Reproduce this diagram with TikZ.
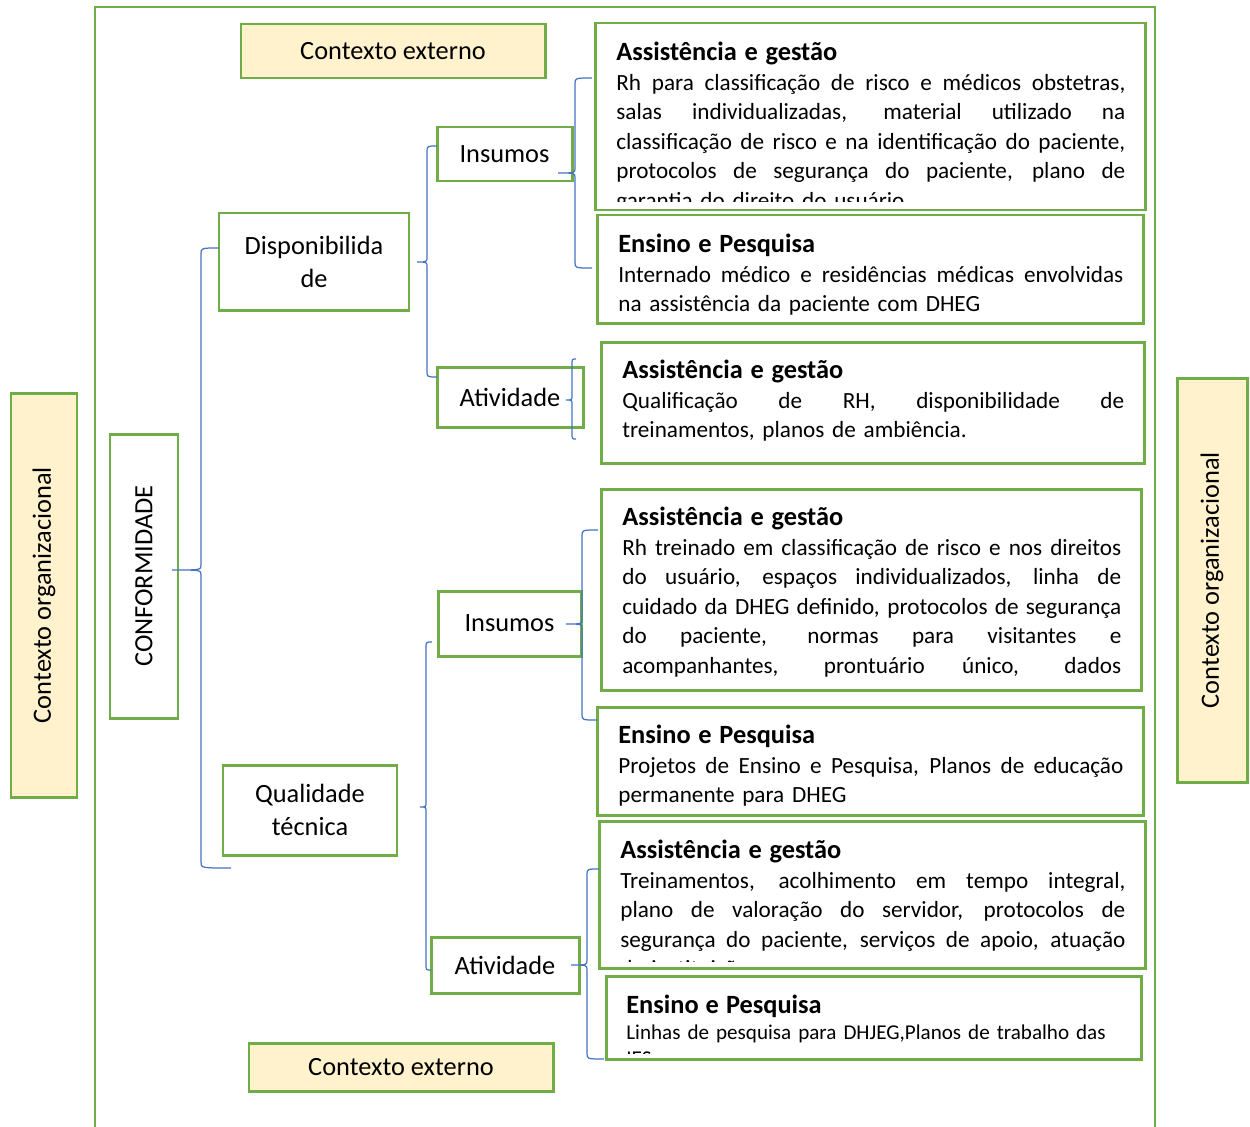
\documentclass[tikz,border=0pt]{standalone}
\usepackage{fontspec}
\setmainfont{Carlito}
\definecolor{boxgreen}{HTML}{70AD47}
\definecolor{braceblue}{HTML}{4472C4}
\definecolor{ctxyellow}{HTML}{FFF2CC}
\newcommand{\pxu}{0.02cm}
\tikzset{
    green box/.style={
        draw=boxgreen,
        fill=white,
        line width=1.7pt,
        inner sep=0pt,
        align=center,
        font=\fontsize{15}{18.8}\selectfont
    },
    context box/.style={
        green box,
        fill=ctxyellow
    },
    info box/.style={
        draw=boxgreen,
        fill=white,
        line width=1.7pt,
        inner sep=0pt
    },
    info text/.style={
        anchor=base west,
        inner sep=0pt,
        align=left,
        font=\fontsize{13.2}{16.8}\selectfont
    },
    brace line/.style={
        draw=braceblue,
        line width=0.7pt
    },
    frame line/.style={
        draw=boxgreen,
        line width=1.5pt
    }
}
\newcommand{\heading}[1]{{\fontsize{15}{16.8}\selectfont\bfseries #1}}
\newcommand{\jline}[1]{\leavevmode\hbox to \hsize{\spaceskip=0pt\xspaceskip=0pt #1}}
% brace: x, top, tip y, bottom, tip x, top end x, bottom end x
\newcommand{\drawbrace}[7]{%
    \draw[brace line]
        (#6,#2) .. controls (#1,#2) .. ({#1},{#2+6})
        -- ({#1},{#3-5}) .. controls (#1,#3) .. (#5,#3)
        .. controls (#1,#3) .. ({#1},{#3+5})
        -- ({#1},{#4-6}) .. controls (#1,#4) .. (#7,#4);
}

\begin{document}
\begin{tikzpicture}[x=\pxu, y=-\pxu]

    \useasboundingbox (0,0) rectangle (1250,1126);

    % Outer frame, open at the bottom.
    \draw[frame line] (95,1140) -- (95,7) -- (1155,7) -- (1155,1140);

    % -------------------------------------------------------------------------
    % Context boxes.
    % -------------------------------------------------------------------------
    \node[context box, minimum width=304*\pxu, minimum height=54*\pxu]
        (ctx top) at (393,51) {Contexto externo};
    \node[context box, minimum width=304*\pxu, minimum height=48*\pxu]
        (ctx bottom) at (401,1067) {Contexto externo};
    \node[context box, rotate=90, minimum width=404*\pxu, minimum height=66*\pxu]
        (org left) at (44,595) {Contexto organizacional};
    \node[context box, rotate=90, minimum width=404*\pxu, minimum height=70*\pxu]
        (org right) at (1212,580) {Contexto organizacional};

    % -------------------------------------------------------------------------
    % Tree of categories.
    % -------------------------------------------------------------------------
    \node[green box, rotate=90, minimum width=284*\pxu, minimum height=68*\pxu]
        (conf) at (144,576) {CONFORMIDADE};

    \node[green box, minimum width=190*\pxu, minimum height=97*\pxu]
        (disp) at (314,261.5) {Disponibilida\\de};
    \node[green box, minimum width=174*\pxu, minimum height=90*\pxu]
        (qual) at (310,810) {Qualidade\\técnica};

    \node[green box, minimum width=135*\pxu, minimum height=54*\pxu]
        (ins disp) at (504.5,154) {Insumos};
    \node[green box, minimum width=146*\pxu, minimum height=60*\pxu]
        (ativ disp) at (510,397) {Atividade};
    \node[green box, minimum width=143*\pxu, minimum height=65*\pxu]
        (ins qual) at (509.5,623.5) {Insumos};
    \node[green box, minimum width=148*\pxu, minimum height=56*\pxu]
        (ativ qual) at (505,965) {Atividade};

    % -------------------------------------------------------------------------
    % Description boxes.
    % -------------------------------------------------------------------------
    \node[info box, minimum width=550*\pxu, minimum height=187*\pxu]
        (assist one) at (870,116.5) {};
    \begin{scope}
        \clip (595,23) rectangle (1145,201);
        \node[info text, text width=509*\pxu] at (616,60.5) {%
            \heading{Assistência e gestão}\\
            \jline{Rh para classificação de risco e médicos obstetras,}\\
            \jline{salas individualizadas, material utilizado na}\\
            \jline{classificação de risco e na identificação do paciente,}\\
            \jline{protocolos de segurança do paciente, plano de}\\
            garantia do direito do usuário};
    \end{scope}

    \node[info box, minimum width=546*\pxu, minimum height=108*\pxu]
        (ensino one) at (870,269) {};
    \node[info text, text width=505*\pxu] at (618,252.5) {%
        \heading{Ensino e Pesquisa}\\
        \jline{Internado médico e residências médicas envolvidas}\\
        na assistência da paciente com DHEG};

    \node[info box, minimum width=543*\pxu, minimum height=121*\pxu]
        (assist two) at (872.5,402.5) {};
    \node[info text, text width=502*\pxu] at (622,378.5) {%
        \heading{Assistência e gestão}\\
        \jline{Qualificação de RH, disponibilidade de}\\
        treinamentos, planos de ambiência.};

    \node[info box, minimum width=540*\pxu, minimum height=201*\pxu]
        (assist three) at (871,589.5) {};
    \node[info text, text width=499*\pxu] at (622,525.5) {%
        \heading{Assistência e gestão}\\
        \jline{Rh treinado em classificação de risco e nos direitos}\\
        \jline{do usuário, espaços individualizados, linha de}\\
        \jline{cuidado da DHEG definido, protocolos de segurança}\\
        \jline{do paciente, normas para visitantes e}\\
        \jline{acompanhantes, prontuário único, dados}};

    \node[info box, minimum width=546*\pxu, minimum height=108*\pxu]
        (ensino three) at (870,761) {};
    \node[info text, text width=505*\pxu] at (618,743.5) {%
        \heading{Ensino e Pesquisa}\\
        \jline{Projetos de Ensino e Pesquisa, Planos de educação}\\
        permanente para DHEG};

    \node[info box, minimum width=546*\pxu, minimum height=147*\pxu]
        (assist four) at (872,894.5) {};
    \begin{scope}
        \clip (599,821) rectangle (1145,961);
        \node[info text, text width=505*\pxu] at (620,858.5) {%
            \heading{Assistência e gestão}\\
            \jline{Treinamentos, acolhimento em tempo integral,}\\
            \jline{plano de valoração do servidor, protocolos de}\\
            \jline{segurança do paciente, serviços de apoio, atuação}\\
            da instituição};
    \end{scope}

    \node[info box, minimum width=535*\pxu, minimum height=83*\pxu]
        (ensino four) at (873.5,1017.5) {};
    \begin{scope}
        \clip (606,976) rectangle (1141,1053);
        \node[info text, text width=495*\pxu, font=\fontsize{12}{15}\selectfont]
            at (626,1013) {%
            \heading{Ensino e Pesquisa}\\
            Linhas de pesquisa para DHJEG,Planos de trabalho das\\
            IES};
    \end{scope}

    % -------------------------------------------------------------------------
    % Braces.
    % -------------------------------------------------------------------------
    \drawbrace{201}{248}{570}{868}{172}{219}{231}
    \drawbrace{427}{146}{262}{377}{417}{437}{437}
    \drawbrace{575}{78}{173}{268}{558}{592}{592}
    \drawbrace{572}{359}{400}{439}{566}{576}{576}
    \drawbrace{426}{642}{807}{970}{420}{432}{431}
    \drawbrace{582}{530}{624}{720}{566}{598}{597}
    \drawbrace{587}{869}{965}{1059}{571}{599}{604}

\end{tikzpicture}
\end{document}
